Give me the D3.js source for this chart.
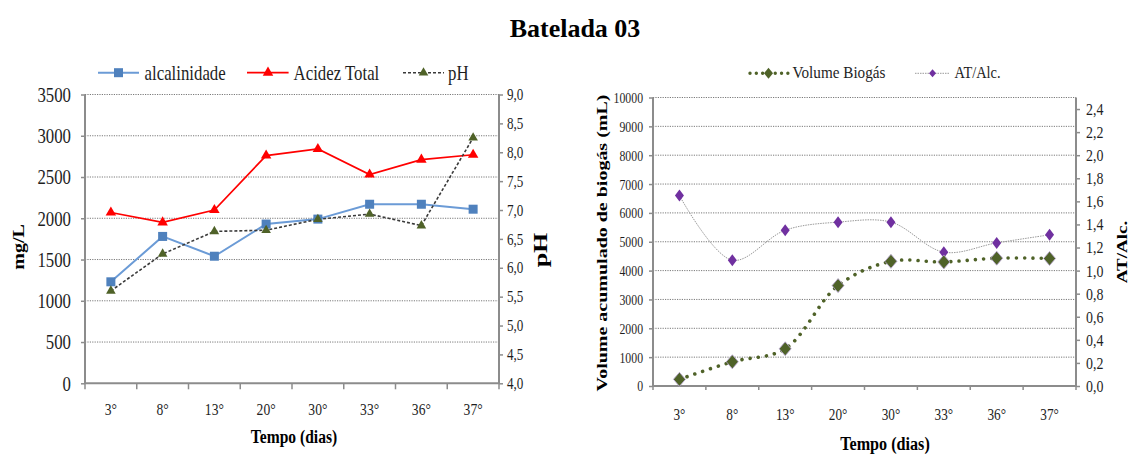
<!DOCTYPE html>
<html><head><meta charset="utf-8">
<script src="https://cdn.jsdelivr.net/npm/d3@7"></script>
<style>
body{margin:0;background:#fff;}
svg{display:block;font-family:"Liberation Serif","Times New Roman",serif;}
</style></head><body>
<svg id="fig" width="1131" height="454"></svg>
<script>
// ---- data ----
const categories = ["3°", "8°", "13°", "20°", "30°", "33°", "36°", "37°"];
const alcalinidade = [1230, 1780, 1540, 1930, 1990, 2170, 2170, 2110];
const acidezTotal = [2070, 1950, 2100, 2760, 2840, 2530, 2710, 2770];
const pH = [5.60, 6.24, 6.63, 6.65, 6.84, 6.93, 6.73, 8.25];
const volumeBiogas = [230, 840, 1290, 3480, 4320, 4300, 4430, 4420];
const atAlc = [1.65, 1.09, 1.35, 1.42, 1.42, 1.16, 1.24, 1.31];

const mgTicks = [0, 500, 1000, 1500, 2000, 2500, 3000, 3500];
const phTicks = [4.0, 4.5, 5.0, 5.5, 6.0, 6.5, 7.0, 7.5, 8.0, 8.5, 9.0];
const volTicks = [0, 1000, 2000, 3000, 4000, 5000, 6000, 7000, 8000, 9000, 10000];
const ratioTicks = [0, 0.2, 0.4, 0.6, 0.8, 1.0, 1.2, 1.4, 1.6, 1.8, 2.0, 2.2, 2.4];

// ---- helpers ----
const svg = d3.select("#fig");
svg.append("rect").attr("width", 1131).attr("height", 454).attr("fill", "#fff");

const FONT = '"Liberation Serif","Times New Roman",serif';
const AXIS = "#8c8c8c", GRID = "#7a7a7a", TXT = "#1e1e1e";
const comma1 = v => d3.format(".1f")(v).replace(".", ",");
const plain = d3.format("d");

// horizontal text, narrowed along x
function hText(parent, x, y, str, size, sx, opt = {}) {
  const g = parent.append("g").attr("transform", `translate(${x},${y})`);
  g.append("text")
    .attr("transform", `scale(${sx},1)`)
    .attr("text-anchor", opt.anchor || "start")
    .attr("font-family", FONT)
    .attr("font-size", size)
    .attr("font-weight", opt.bold ? "bold" : "normal")
    .attr("fill", opt.fill || TXT)
    .text(str);
  return g;
}
// vertical text reading bottom-to-top, thinned across the glyphs
function vText(parent, x, y, str, size, sy, opt = {}) {
  const g = parent.append("g").attr("transform", `translate(${x},${y}) rotate(-90)`);
  g.append("text")
    .attr("transform", `scale(1,${sy})`)
    .attr("text-anchor", "middle")
    .attr("font-family", FONT)
    .attr("font-size", size)
    .attr("font-weight", "bold")
    .attr("fill", opt.fill || "#000")
    .text(str);
  return g;
}
function styleAxis(g, size, sx) {
  g.attr("font-family", FONT).attr("font-size", size);
  g.select(".domain").remove();
  g.selectAll(".tick line").attr("stroke", AXIS).attr("stroke-width", 1.5);
  g.selectAll(".tick text").attr("fill", TXT).attr("font-family", FONT).each(function () {
    const t = d3.select(this);
    const x = +t.attr("x") || 0;
    t.attr("x", x / sx).attr("transform", `scale(${sx},1)`);
  });
}
const diamond = (w, h) => `M0,${-h}L${w},0L0,${h}L${-w},0Z`;

// ---- title ----
hText(svg, 575, 37, "Batelada 03", 26, 1, { anchor: "middle", bold: true, fill: "#000" });

// ================= left chart: mg/L and pH =================
const L = { x0: 85, x1: 499, y0: 383.3, y1: 94.5 };
const xL = d3.scaleBand().domain(categories).range([L.x0, L.x1]);
const cxL = c => xL(c) + xL.bandwidth() / 2;
const yMg = d3.scaleLinear().domain([0, 3500]).range([L.y0, L.y1]);
const yPh = d3.scaleLinear().domain([4, 9]).range([L.y0, L.y1]);
const left = svg.append("g");

// gridlines
left.append("g").selectAll("line").data(mgTicks.filter(t => t > 0)).join("line")
  .attr("x1", L.x0).attr("x2", L.x1)
  .attr("y1", d => yMg(d)).attr("y2", d => yMg(d))
  .attr("stroke", GRID).attr("stroke-width", 1).attr("stroke-dasharray", "1.2 1.2");

// axes
const gMg = left.append("g").attr("transform", `translate(${L.x0},0)`)
  .call(d3.axisLeft(yMg).tickValues(mgTicks).tickFormat(plain).tickSize(4).tickPadding(10));
styleAxis(gMg, 21, 0.8);
const gPh = left.append("g").attr("transform", `translate(${L.x1},0)`)
  .call(d3.axisRight(yPh).tickValues(phTicks).tickFormat(comma1).tickSize(4).tickPadding(4));
styleAxis(gPh, 16, 0.82);
const gXL = left.append("g").attr("transform", `translate(0,${L.y0})`)
  .call(d3.axisBottom(xL).tickSize(0).tickPadding(20));
styleAxis(gXL, 17, 0.8);
// category boundary ticks
left.append("g").selectAll("line").data(categories.map(c => xL(c)).concat([L.x1])).join("line")
  .attr("x1", d => d).attr("x2", d => d).attr("y1", L.y0).attr("y2", L.y0 + 6)
  .attr("stroke", AXIS).attr("stroke-width", 1.5);
// axis lines
left.append("line").attr("x1", L.x0).attr("x2", L.x0).attr("y1", L.y1).attr("y2", L.y0)
  .attr("stroke", AXIS).attr("stroke-width", 2);
left.append("line").attr("x1", L.x1).attr("x2", L.x1).attr("y1", L.y1).attr("y2", L.y0)
  .attr("stroke", AXIS).attr("stroke-width", 2);
left.append("line").attr("x1", L.x0).attr("x2", L.x1).attr("y1", L.y0).attr("y2", L.y0)
  .attr("stroke", AXIS).attr("stroke-width", 2);

// series
const BLUE = "#4f81bd", RED = "#ff0000", OLIVE = "#4f6228", PURPLE = "#7030a0";
const lineMg = d3.line().x((d, i) => cxL(categories[i])).y(d => yMg(d));
const linePh = d3.line().x((d, i) => cxL(categories[i])).y(d => yPh(d));
const tri = d3.symbol(d3.symbolTriangle, 48);
const triSmall = d3.symbol(d3.symbolTriangle, 40);

left.append("path").attr("d", lineMg(alcalinidade)).attr("fill", "none")
  .attr("stroke", "#6b9bd6").attr("stroke-width", 2);
left.append("path").attr("d", lineMg(acidezTotal)).attr("fill", "none")
  .attr("stroke", RED).attr("stroke-width", 1.7);
left.append("path").attr("d", linePh(pH)).attr("fill", "none")
  .attr("stroke", "#3a3a3a").attr("stroke-width", 1.6).attr("stroke-dasharray", "3 2");

left.append("g").selectAll("rect").data(alcalinidade).join("rect")
  .attr("x", (d, i) => cxL(categories[i]) - 4.5).attr("y", d => yMg(d) - 4.5)
  .attr("width", 9).attr("height", 9).attr("fill", BLUE);
left.append("g").selectAll("path").data(acidezTotal).join("path")
  .attr("d", tri).attr("fill", RED)
  .attr("transform", (d, i) => `translate(${cxL(categories[i])},${yMg(d)})`);
left.append("g").selectAll("path").data(pH).join("path")
  .attr("d", triSmall).attr("fill", OLIVE)
  .attr("transform", (d, i) => `translate(${cxL(categories[i])},${yPh(d)})`);

// axis titles
vText(left, 24, 247, "mg/L", 20, 0.8);
vText(left, 547, 250, "pH", 26, 0.7);
hText(left, 294, 443, "Tempo (dias)", 19, 0.82, { anchor: "middle", bold: true, fill: "#000" });

// legend
const lgL = left.append("g");
lgL.append("line").attr("x1", 98).attr("x2", 139).attr("y1", 72.7).attr("y2", 72.7)
  .attr("stroke", "#6b9bd6").attr("stroke-width", 2);
lgL.append("rect").attr("x", 118.5 - 4.5).attr("y", 72.7 - 4.5).attr("width", 9).attr("height", 9).attr("fill", BLUE);
hText(lgL, 144.6, 80, "alcalinidade", 21, 0.8);
lgL.append("line").attr("x1", 247).attr("x2", 288.6).attr("y1", 72.7).attr("y2", 72.7)
  .attr("stroke", RED).attr("stroke-width", 1.7);
lgL.append("path").attr("d", tri).attr("fill", RED).attr("transform", "translate(268,72.7)");
hText(lgL, 293.6, 80, "Acidez Total", 21, 0.8);
lgL.append("line").attr("x1", 403).attr("x2", 444).attr("y1", 72.7).attr("y2", 72.7)
  .attr("stroke", "#3a3a3a").attr("stroke-width", 1.4).attr("stroke-dasharray", "3 2");
lgL.append("path").attr("d", triSmall).attr("fill", OLIVE).attr("transform", "translate(423.5,72.7)");
hText(lgL, 448, 80, "pH", 21, 0.8);

// ================= right chart: biogas and AT/Alc =================
const R = { x0: 653, x1: 1076, y0: 386, y1: 97.5 };
const xR = d3.scaleBand().domain(categories).range([R.x0, R.x1]);
const cxR = c => xR(c) + xR.bandwidth() / 2;
const yVol = d3.scaleLinear().domain([0, 10000]).range([R.y0, R.y1]);
const yRat = d3.scaleLinear().domain([0, 2.5]).range([R.y0, R.y1]);
const right = svg.append("g");

right.append("g").selectAll("line").data(volTicks.filter(t => t > 0)).join("line")
  .attr("x1", R.x0).attr("x2", R.x1)
  .attr("y1", d => yVol(d)).attr("y2", d => yVol(d))
  .attr("stroke", GRID).attr("stroke-width", 1).attr("stroke-dasharray", "1.2 1.2");

const gVol = right.append("g").attr("transform", `translate(${R.x0},0)`)
  .call(d3.axisLeft(yVol).tickValues(volTicks).tickFormat(plain).tickSize(4).tickPadding(6));
styleAxis(gVol, 15.5, 0.76);
const gRat = right.append("g").attr("transform", `translate(${R.x1},0)`)
  .call(d3.axisRight(yRat).tickValues(ratioTicks).tickFormat(comma1).tickSize(4).tickPadding(6));
styleAxis(gRat, 17, 0.82);
const gXR = right.append("g").attr("transform", `translate(0,${R.y0})`)
  .call(d3.axisBottom(xR).tickSize(0).tickPadding(22));
styleAxis(gXR, 17, 0.78);
right.append("g").selectAll("line").data(categories.map(c => xR(c)).concat([R.x1])).join("line")
  .attr("x1", d => d).attr("x2", d => d).attr("y1", R.y0).attr("y2", R.y0 + 4)
  .attr("stroke", AXIS).attr("stroke-width", 1.5);
right.append("line").attr("x1", R.x0).attr("x2", R.x0).attr("y1", R.y1).attr("y2", R.y0)
  .attr("stroke", AXIS).attr("stroke-width", 2);
right.append("line").attr("x1", R.x1).attr("x2", R.x1).attr("y1", R.y1).attr("y2", R.y0)
  .attr("stroke", AXIS).attr("stroke-width", 2);
right.append("line").attr("x1", R.x0).attr("x2", R.x1).attr("y1", R.y0).attr("y2", R.y0)
  .attr("stroke", AXIS).attr("stroke-width", 2);

// smoothed series
const lineVol = d3.line().curve(d3.curveCatmullRom.alpha(0.5))
  .x((d, i) => cxR(categories[i])).y(d => yVol(d));
const lineRat = d3.line().curve(d3.curveCatmullRom.alpha(0.5))
  .x((d, i) => cxR(categories[i])).y(d => yRat(d));

right.append("path").attr("d", lineRat(atAlc)).attr("fill", "none")
  .attr("stroke", "#9a9a9a").attr("stroke-width", 1).attr("stroke-dasharray", "1.5 1");
right.append("path").attr("d", lineVol(volumeBiogas)).attr("fill", "none")
  .attr("stroke", OLIVE).attr("stroke-width", 3.6).attr("stroke-linecap", "round")
  .attr("stroke-dasharray", "0.01 8.2");

right.append("g").selectAll("path").data(atAlc).join("path")
  .attr("d", diamond(4.5, 6)).attr("fill", PURPLE)
  .attr("transform", (d, i) => `translate(${cxR(categories[i])},${yRat(d)})`);
right.append("g").selectAll("path").data(volumeBiogas).join("path")
  .attr("d", diamond(6, 7)).attr("fill", OLIVE).attr("stroke", "#b7a5d3").attr("stroke-width", 0.8)
  .attr("transform", (d, i) => `translate(${cxR(categories[i])},${yVol(d)})`);

// axis titles
vText(right, 607, 243, "Volume acumulado de biogás (mL)", 20, 0.78);
vText(right, 1127, 252, "AT/Alc.", 19, 0.72);
hText(right, 885, 450, "Tempo (dias)", 19, 0.85, { anchor: "middle", bold: true, fill: "#000" });

// legend
const lgR = right.append("g");
lgR.append("line").attr("x1", 750).attr("x2", 788).attr("y1", 73.3).attr("y2", 73.3)
  .attr("stroke", OLIVE).attr("stroke-width", 3.4).attr("stroke-linecap", "round")
  .attr("stroke-dasharray", "0.01 6.3");
lgR.append("path").attr("d", diamond(4.5, 5.5)).attr("fill", OLIVE).attr("transform", "translate(768.5,73.3)");
hText(lgR, 792.5, 77.5, "Volume Biogás", 16, 0.95);
lgR.append("line").attr("x1", 915).attr("x2", 950).attr("y1", 73.3).attr("y2", 73.3)
  .attr("stroke", "#9a9a9a").attr("stroke-width", 1).attr("stroke-dasharray", "1.5 1");
lgR.append("path").attr("d", diamond(3.5, 4)).attr("fill", PURPLE).attr("transform", "translate(932.5,73.3)");
hText(lgR, 954.6, 78, "AT/Alc.", 16, 0.9);
</script>
</body></html>
